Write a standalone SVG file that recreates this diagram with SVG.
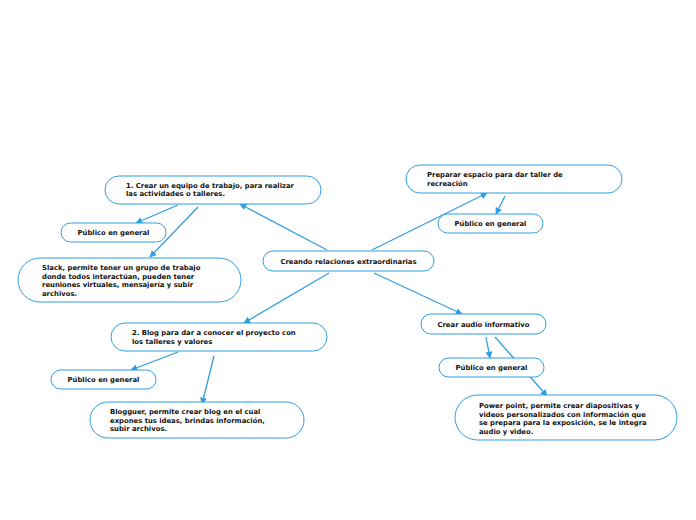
<svg xmlns="http://www.w3.org/2000/svg" width="696" height="520" viewBox="0 0 696 520">
<defs>
<marker id="ah" viewBox="0 0 10 10" refX="9" refY="5" markerWidth="7" markerHeight="7" markerUnits="userSpaceOnUse" orient="auto">
<path d="M0,0 L10,5 L0,10 z" fill="#2e9ee2"/>
</marker>
<style>
.n{fill:#fff;stroke:#2e9ee2;stroke-width:1}
.t{font-family:"DejaVu Sans",Verdana,sans-serif;font-weight:bold;font-size:6.85px;fill:#111}
.c{fill:none;stroke:#2e9ee2;stroke-width:1.3;marker-end:url(#ah)}
</style>
</defs>
<rect width="696" height="520" fill="#fff"/>
<g id="connectors">
<line class="c" x1="327" y1="250" x2="240" y2="204"/>
<line class="c" x1="372" y1="250" x2="487" y2="193"/>
<line class="c" x1="329" y1="273" x2="244" y2="323"/>
<line class="c" x1="374" y1="273" x2="462" y2="314"/>
<line class="c" x1="178" y1="205" x2="136" y2="223"/>
<line class="c" x1="198" y1="207" x2="150" y2="257"/>
<line class="c" x1="505" y1="196" x2="496" y2="214"/>
<line class="c" x1="178" y1="352" x2="131" y2="370"/>
<line class="c" x1="214" y1="356" x2="202" y2="404"/>
<line class="c" x1="486" y1="337" x2="490" y2="358"/>
<line class="c" x1="495" y1="337" x2="547" y2="396"/>
</g>
<g id="central">
<rect class="n" x="263" y="251" width="171" height="20" rx="10"/>
<text class="t" x="348.5" y="264" text-anchor="middle">Creando relaciones extraordinarias</text>
</g>
<g id="n1">
<rect class="n" x="105" y="176" width="216" height="28" rx="14"/>
<text class="t" x="126" y="188">1. Crear un equipo de trabajo, para realizar</text>
<text class="t" x="126" y="196">las actividades o talleres.</text>
</g>
<g id="n1a">
<rect class="n" x="61" y="223" width="105" height="19" rx="9.5"/>
<text class="t" x="113.5" y="235" text-anchor="middle">Público en general</text>
</g>
<g id="n1b">
<rect class="n" x="18" y="258" width="223" height="44" rx="22"/>
<text class="t" x="42" y="270">Slack, permite tener un grupo de trabajo</text>
<text class="t" x="42" y="278.5">donde todos interactúan, pueden tener</text>
<text class="t" x="42" y="287">reuniones virtuales, mensajería y subir</text>
<text class="t" x="42" y="295.5">archivos.</text>
</g>
<g id="n3">
<rect class="n" x="406" y="165" width="216" height="28" rx="14"/>
<text class="t" x="427" y="177">Preparar espacio para dar taller de</text>
<text class="t" x="427" y="186">recreación</text>
</g>
<g id="n3a">
<rect class="n" x="438" y="214" width="105" height="19" rx="9.5"/>
<text class="t" x="490.5" y="226" text-anchor="middle">Público en general</text>
</g>
<g id="n2">
<rect class="n" x="111" y="323" width="216" height="28" rx="14"/>
<text class="t" x="132" y="335">2. Blog para dar a conocer el proyecto con</text>
<text class="t" x="132" y="344">los talleres y valores</text>
</g>
<g id="n2a">
<rect class="n" x="51" y="370" width="105" height="19" rx="9.5"/>
<text class="t" x="103.5" y="382" text-anchor="middle">Público en general</text>
</g>
<g id="n2b">
<rect class="n" x="90" y="402" width="214" height="36" rx="18"/>
<text class="t" x="110" y="414">Blogguer, permite crear blog en el cual</text>
<text class="t" x="110" y="422.5">expones tus ideas, brindas información,</text>
<text class="t" x="110" y="431">subir archivos.</text>
</g>
<g id="n4">
<rect class="n" x="421" y="314" width="125" height="20" rx="10"/>
<text class="t" x="483.5" y="327" text-anchor="middle">Crear audio informativo</text>
</g>
<g id="n4a">
<rect class="n" x="439" y="358" width="105" height="19" rx="9.5"/>
<text class="t" x="491.5" y="370" text-anchor="middle">Público en general</text>
</g>
<g id="n4b">
<rect class="n" x="455" y="395" width="222" height="45" rx="22.5"/>
<text class="t" x="479" y="408">Power point, permite crear diapositivas y</text>
<text class="t" x="479" y="416.5">videos personalizados con información que</text>
<text class="t" x="479" y="425">se prepara para  la exposición, se le integra</text>
<text class="t" x="479" y="433.5">audio y video.</text>
</g>
</svg>
